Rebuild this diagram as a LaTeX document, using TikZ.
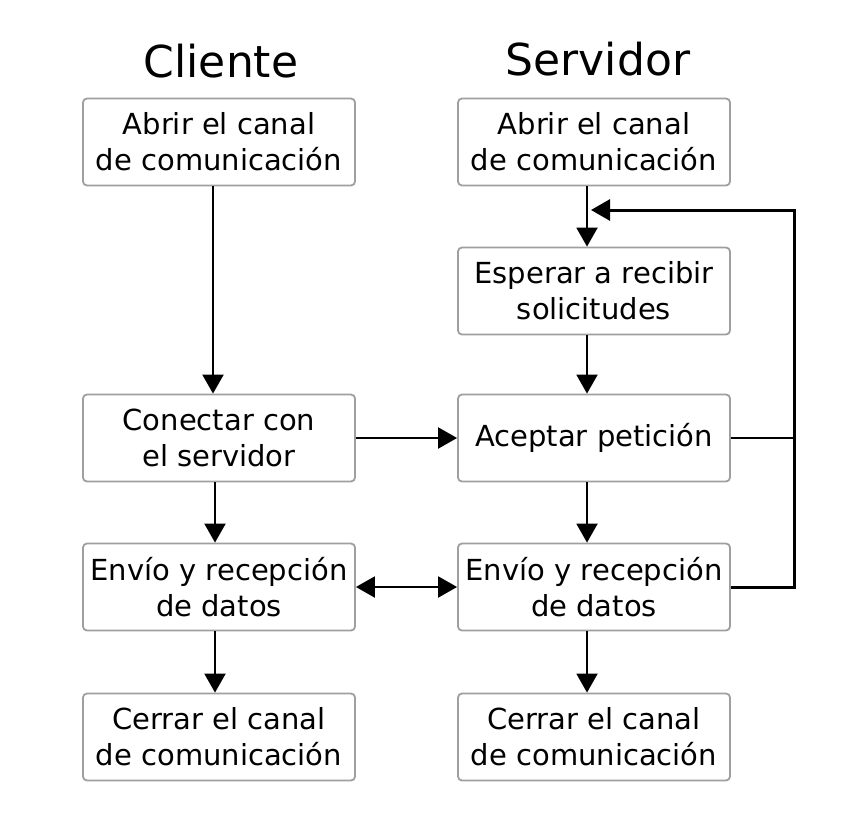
\documentclass[tikz,border=0pt]{standalone}
\usepackage{fontspec}
\setmainfont{DejaVu Sans}
\usetikzlibrary{arrows.meta}

\begin{document}
\begin{tikzpicture}[x=1pt,y=-1pt,
    caja/.style={draw=gray!75,line width=1.8pt,rounded corners=4pt,fill=white,
      minimum width=272pt,minimum height=87pt,inner sep=0pt,align=center,
      font=\fontsize{29}{36}\selectfont},
    titulo/.style={font=\fontsize{44}{52}\selectfont},
    punta/.tip={Triangle[length=19pt,width=21pt]},
    flecha/.style={-punta,line width=2pt}]
  \useasboundingbox (0,0) rectangle (850,813);

  % ---- Cliente ----
  \node[titulo] (tCli) at (221,61) {Cliente};
  \node[caja] (cAbrir) at (219,142) {Abrir el canal\\de comunicación};
  \node[caja] (cCon)   at (219,438) {Conectar con\\el servidor};
  \node[caja] (cEnv)   at (219,587) {Envío y recepción\\de datos};
  \node[caja] (cCer)   at (219,737) {Cerrar el canal\\de comunicación};
  \draw[flecha] ([xshift=-6pt]cAbrir.south) -- ([xshift=-6pt]cCon.north);
  \draw[flecha] ([xshift=-4pt]cCon.south) -- ([xshift=-4pt]cEnv.north);
  \draw[flecha] ([xshift=-4pt]cEnv.south) -- ([xshift=-4pt]cCer.north);

  % ---- Servidor ----
  \node[titulo] (tSrv) at (598,59) {Servidor};
  \node[caja] (sAbrir) at (594,142) {Abrir el canal\\de comunicación};
  \node[caja] (sEsp)   at (594,291) {Esperar a recibir\\solicitudes};
  \node[caja] (sAcep)  at (594,438) {Aceptar petición};
  \node[caja] (sEnv)   at (594,587) {Envío y recepción\\de datos};
  \node[caja] (sCer)   at (594,737) {Cerrar el canal\\de comunicación};
  \draw[flecha] ([xshift=-7pt]sAbrir.south) -- ([xshift=-7pt]sEsp.north);
  \draw[flecha] ([xshift=-7pt]sEsp.south) -- ([xshift=-7pt]sAcep.north);
  \draw[flecha] ([xshift=-7pt]sAcep.south) -- ([xshift=-7pt]sEnv.north);
  \draw[flecha] ([xshift=-7pt]sEnv.south) -- ([xshift=-7pt]sCer.north);

  % ---- Entre columnas ----
  \draw[flecha] (cCon.east) -- (sAcep.west);
  \draw[punta-punta,line width=2pt] (cEnv.east) -- (sEnv.west);

  % ---- Bucle del servidor ----
  \coordinate (lazoA) at (794,210);
  \coordinate (lazoFin) at (591,210);
  \draw[flecha,line width=3pt] (sEnv.east) -| (lazoA) -- (lazoFin);
  \draw[line width=2pt] (sAcep.east) -- (sAcep.east -| lazoA);
\end{tikzpicture}
\end{document}
